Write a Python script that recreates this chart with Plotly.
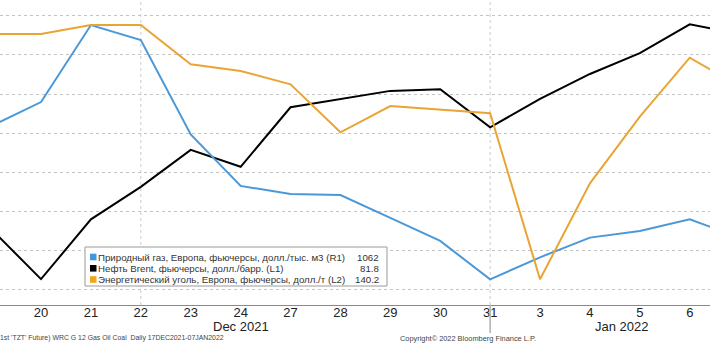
import plotly.graph_objects as go

# Trading days, 17 Dec 2021 – 7 Jan 2022
dates = ["17", "20", "21", "22", "23", "24", "27", "28", "29", "30", "31",
         "3", "4", "5", "6", "7"]

# European natural gas futures, USD per 1000 m3 (right axis R1)
gas = [1635, 1758, 2153, 2076, 1592, 1328, 1287, 1281, 1164, 1046, 849,
       962, 1063, 1097, 1157, 1062]

# Brent futures, USD per barrel (left axis L1)
brent = [74.31, 72.38, 74.68, 75.93, 77.35, 76.70, 78.99, 79.31, 79.62, 79.68,
         78.22, 79.31, 80.27, 81.07, 82.18, 81.8]

# European thermal coal futures, USD per tonne (left axis L2)
coal = [153.71, 153.71, 156.02, 156.02, 145.94, 144.23, 140.82, 128.51, 135.25,
        134.41, 133.38, 90.82, 115.43, 132.51, 147.64, 140.2]

names = ["Природный газ, Европа, фьючерсы, долл./тыс. м3 (R1)",
         "Нефть Brent, фьючерсы, долл./барр. (L1)",
         "Энергетический уголь, Европа, фьючерсы, долл./т (L2)"]
last_labels = ["1062", "81.8", "140.2"]

month_labels = ["Dec 2021", "Jan 2022"]
footer_left = "1st 'TZT' Future) WRC G 12 Gas Oil Coal  Daily 17DEC2021-07JAN2022"
footer_right = "Copyright\u00a9 2022 Bloomberg Finance L.P."

BLUE = "#4b98d8"
BLACK = "#000000"
ORANGE = "#e9a534"
LEGEND_COLORS = ["#3f97e2", "#000000", "#f2a41e"]

W, H = 710, 343
PLOT_H = 305  # plot area height in px (axis line at bottom)


def px(x):
    return x / W


def py(y):
    return (PLOT_H - y) / PLOT_H


fig = go.Figure()
fig.add_trace(go.Scatter(x=dates, y=gas, yaxis="y2", mode="lines",
                         line=dict(color=BLUE, width=2), name=names[0]))
fig.add_trace(go.Scatter(x=dates, y=brent, yaxis="y", mode="lines",
                         line=dict(color=BLACK, width=2), name=names[1]))
fig.add_trace(go.Scatter(x=dates, y=coal, yaxis="y3", mode="lines",
                         line=dict(color=ORANGE, width=2), name=names[2]))

shapes = []
# dotted vertical separators
for d in ["22", "31"]:
    i = dates.index(d)
    shapes.append(dict(type="line", xref="x", yref="paper", x0=i, x1=i, y0=0, y1=1,
                       line=dict(color="#cccccc", width=1, dash="dot"), layer="below"))
# month boundary tick below the axis
i31 = dates.index("31")
shapes.append(dict(type="line", xref="x", yref="paper", x0=i31, x1=i31,
                   y0=py(333), y1=0, line=dict(color="#b0b0b0", width=1.5)))

# legend box
shapes.append(dict(type="rect", xref="paper", yref="paper",
                   x0=px(85), x1=px(387), y0=py(286), y1=py(247),
                   fillcolor="white", line=dict(color="#9a9a9a", width=1)))

LEG_FONT = dict(family="Liberation Sans", size=9.7, color="#333333")
annotations = []
row_y = [257, 268.3, 279.5]
for k in range(3):
    shapes.append(dict(type="rect", xref="paper", yref="paper",
                       x0=px(90), x1=px(96.5), y0=py(row_y[k] + 3.3), y1=py(row_y[k] - 3.3),
                       fillcolor=LEGEND_COLORS[k], line=dict(width=0)))
    annotations.append(dict(xref="paper", yref="paper", x=px(95.5), y=py(row_y[k]),
                            text=names[k], showarrow=False, xanchor="left", yanchor="middle",
                            font=LEG_FONT))
    annotations.append(dict(xref="paper", yref="paper", x=px(381), y=py(row_y[k]),
                            text=last_labels[k], showarrow=False, xanchor="right", yanchor="middle",
                            font=LEG_FONT))

# month labels under the day ticks
annotations.append(dict(xref="x", yref="paper", x=dates.index("24"), y=py(326),
                        text=month_labels[0], showarrow=False, xanchor="center", yanchor="middle",
                        font=dict(family="Liberation Sans", size=13, color="#222222")))
annotations.append(dict(xref="x", yref="paper", x=dates.index("4") + 0.64, y=py(326),
                        text=month_labels[1], showarrow=False, xanchor="center", yanchor="middle",
                        font=dict(family="Liberation Sans", size=13, color="#222222")))

# footer lines
annotations.append(dict(xref="paper", yref="paper", x=px(-2), y=py(338),
                        text=footer_left, showarrow=False, xanchor="left", yanchor="middle",
                        font=dict(family="Liberation Sans", size=6.9, color="#444444")))
annotations.append(dict(xref="paper", yref="paper", x=px(468), y=py(338),
                        text=footer_right, showarrow=False, xanchor="center", yanchor="middle",
                        font=dict(family="Liberation Sans", size=7.4, color="#444444")))

fig.update_layout(
    width=W, height=H,
    margin=dict(l=0, r=0, t=0, b=H - PLOT_H),
    paper_bgcolor="white", plot_bgcolor="white",
    showlegend=False,
    xaxis=dict(type="category", categoryorder="array", categoryarray=dates,
               range=[0.178, 14.406], showgrid=False, zeroline=False,
               ticks="", showline=True, linecolor="#8a8a8a", linewidth=1,
               ticklabelstandoff=-5,
               tickfont=dict(family="Liberation Sans", size=13, color="#222222")),
    yaxis=dict(range=[71.385, 83.115], tick0=72, dtick=1.5, showgrid=True,
               gridcolor="#c4c4c4", griddash="dot", gridwidth=1,
               showticklabels=False, ticks="", showline=False, zeroline=False),
    yaxis2=dict(range=[717.4, 2281.5], overlaying="y", side="right", visible=False),
    yaxis3=dict(range=[84.23, 162.43], overlaying="y", side="left", visible=False),
    shapes=shapes,
    annotations=annotations,
)

fig.write_html("out.html")
